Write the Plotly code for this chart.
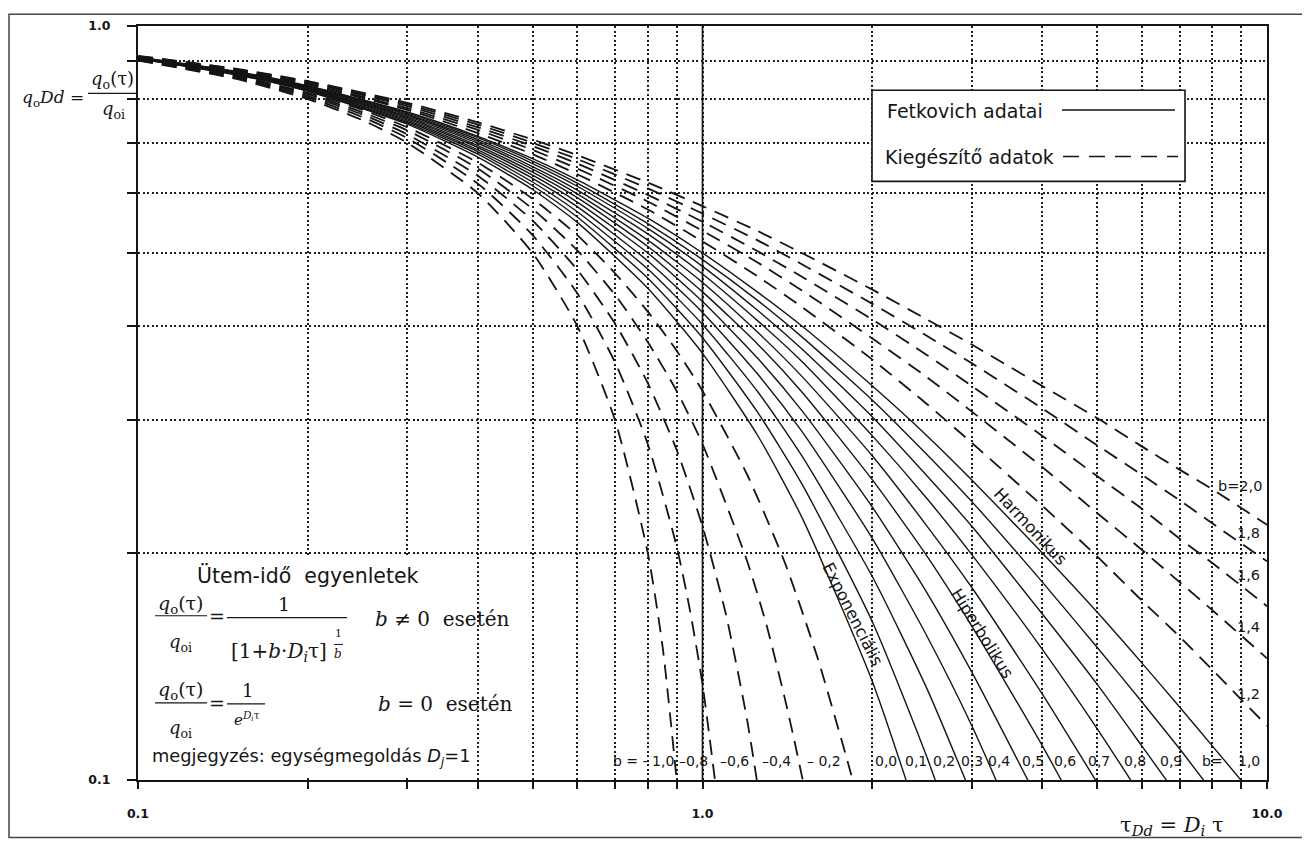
import plotly.graph_objects as go

# ---------------- data ----------------
TAU = [0.1, 0.15, 0.2, 0.3, 0.4, 0.5, 0.6, 0.8, 1.0, 1.25, 1.5, 2.0, 2.5, 3.0,
       4.0, 5.0, 6.0, 7.0, 8.0, 10.0]

# negative b (dashed, "Kiegészítő adatok")
TAU_BM10 = [0.1, 0.15, 0.2, 0.25, 0.3, 0.4, 0.5, 0.6, 0.7, 0.8, 0.85, 0.9]
Q_BM10 = [0.90, 0.85, 0.80, 0.75, 0.70, 0.60, 0.50, 0.40, 0.30, 0.20, 0.15, 0.10]
TAU_BM08 = [0.1, 0.15, 0.2, 0.25, 0.3, 0.4, 0.5, 0.6, 0.7, 0.8, 0.9, 0.95, 1.0, 1.052]
Q_BM08 = [0.901, 0.852, 0.804, 0.757, 0.710, 0.618, 0.528, 0.442, 0.358, 0.279, 0.204, 0.168, 0.134, 0.100]
TAU_BM06 = [0.1, 0.15, 0.2, 0.25, 0.3, 0.4, 0.5, 0.6, 0.7, 0.8, 0.9, 1.0, 1.1, 1.2, 1.248]
Q_BM06 = [0.902, 0.855, 0.808, 0.763, 0.718, 0.633, 0.552, 0.475, 0.403, 0.336, 0.274, 0.217, 0.166, 0.120, 0.100]
TAU_BM04 = [0.1, 0.15, 0.2, 0.25, 0.3, 0.4, 0.5, 0.6, 0.7, 0.8, 0.9, 1.0, 1.2, 1.3, 1.4, 1.45, 1.505]
Q_BM04 = [0.903, 0.857, 0.812, 0.768, 0.727, 0.647, 0.572, 0.504, 0.440, 0.381, 0.328, 0.279, 0.195, 0.160, 0.128, 0.114, 0.100]
TAU_BM02 = [0.1, 0.15, 0.2, 0.25, 0.3, 0.4, 0.5, 0.6, 0.7, 0.8, 0.9, 1.0, 1.2, 1.4, 1.6, 1.8, 1.845]
Q_BM02 = [0.904, 0.859, 0.815, 0.774, 0.734, 0.659, 0.590, 0.528, 0.470, 0.418, 0.371, 0.328, 0.254, 0.194, 0.145, 0.107, 0.100]

# 0 <= b <= 1 (solid, "Fetkovich adatai"), sampled at TAU
Q_B000 = [0.905, 0.861, 0.819, 0.741, 0.670, 0.607, 0.549, 0.449, 0.368, 0.287, 0.223, 0.135, 0.0821]
Q_B010 = [0.905, 0.862, 0.820, 0.744, 0.676, 0.614, 0.558, 0.463, 0.386, 0.308, 0.247, 0.162, 0.107, 0.0725]
Q_B020 = [0.906, 0.863, 0.822, 0.747, 0.681, 0.621, 0.567, 0.476, 0.402, 0.328, 0.269, 0.186, 0.132, 0.0954]
Q_B030 = [0.906, 0.864, 0.823, 0.750, 0.685, 0.628, 0.576, 0.488, 0.417, 0.346, 0.290, 0.209, 0.155, 0.118, 0.0722]
Q_B040 = [0.907, 0.864, 0.825, 0.753, 0.690, 0.634, 0.584, 0.500, 0.431, 0.363, 0.309, 0.230, 0.177, 0.139, 0.0917]
Q_B050 = [0.907, 0.865, 0.826, 0.756, 0.694, 0.640, 0.592, 0.510, 0.444, 0.379, 0.327, 0.250, 0.198, 0.160, 0.111, 0.0816]
Q_B060 = [0.907, 0.866, 0.828, 0.759, 0.699, 0.646, 0.599, 0.520, 0.457, 0.393, 0.343, 0.269, 0.217, 0.180, 0.130, 0.0992]
Q_B070 = [0.908, 0.867, 0.829, 0.762, 0.703, 0.651, 0.606, 0.530, 0.469, 0.407, 0.359, 0.286, 0.236, 0.199, 0.149, 0.117, 0.0949]
Q_B080 = [0.908, 0.868, 0.831, 0.764, 0.707, 0.657, 0.613, 0.539, 0.480, 0.420, 0.373, 0.303, 0.253, 0.217, 0.166, 0.134, 0.111, 0.0945]
Q_B090 = [0.909, 0.869, 0.832, 0.767, 0.711, 0.662, 0.619, 0.547, 0.490, 0.433, 0.387, 0.319, 0.270, 0.234, 0.183, 0.150, 0.127, 0.110, 0.0965]
Q_B100 = [0.909, 0.870, 0.833, 0.769, 0.714, 0.667, 0.625, 0.556, 0.500, 0.444, 0.400, 0.333, 0.286, 0.250, 0.200, 0.167, 0.143, 0.125, 0.111, 0.0909]

# b > 1 (dashed)
Q_B120 = [0.910, 0.871, 0.836, 0.774, 0.721, 0.676, 0.636, 0.571, 0.518, 0.466, 0.424, 0.361, 0.315, 0.280, 0.231, 0.198, 0.173, 0.155, 0.140, 0.118]
Q_B140 = [0.911, 0.873, 0.838, 0.778, 0.728, 0.685, 0.647, 0.585, 0.535, 0.486, 0.446, 0.385, 0.342, 0.308, 0.260, 0.226, 0.202, 0.183, 0.168, 0.145]
Q_B160 = [0.911, 0.874, 0.841, 0.783, 0.734, 0.693, 0.657, 0.597, 0.550, 0.503, 0.465, 0.408, 0.366, 0.333, 0.286, 0.253, 0.229, 0.209, 0.194, 0.170]
Q_B180 = [0.912, 0.876, 0.843, 0.787, 0.740, 0.700, 0.666, 0.609, 0.564, 0.520, 0.483, 0.428, 0.388, 0.357, 0.311, 0.278, 0.254, 0.235, 0.219, 0.195]
Q_B200 = [0.913, 0.877, 0.845, 0.791, 0.745, 0.707, 0.674, 0.620, 0.577, 0.535, 0.500, 0.447, 0.408, 0.378, 0.333, 0.302, 0.277, 0.258, 0.243, 0.218]

X_TICKS = [0.1, 1, 10]
X_TICKTEXT = ["0.1", "1.0", "10.0"]
X_MINOR = [0.2, 0.3, 0.4, 0.5, 0.6, 0.7, 0.8, 0.9, 2, 3, 4, 5, 6, 7, 8, 9]
Y_TICKS = [0.1, 1.0]
Y_TICKTEXT = ["0.1", "1.0"]
Y_MINOR = [0.2, 0.3, 0.4, 0.5, 0.6, 0.7, 0.8, 0.9]

BOTTOM_LABELS = ["b = - 1,0", "–0,8", "–0,6", "–0,4", "– 0,2", "0,0", "0,1", "0,2", "0,3",
                 "0,4", "0,5", "0,6", "0,7", "0,8", "0,9", "b=", "1,0"]
RIGHT_LABELS = ["b=2,0", "1,8", "1,6", "1,4", "1,2"]
LEGEND_TEXT = ["Fetkovich adatai", "Kiegészítő adatok"]

# ---------------- styling ----------------
INK = "#151515"
SANS = "DejaVu Sans"
SERIF = "DejaVu Serif"
OFF = 8                       # page body margin of the html page
W, H = 1310 - OFF, 843 - OFF
L, R, T, B = 138 - OFF, 43, 18 - OFF, 63
PW, PH = W - L - R, H - T - B
DASH = "15px,9px"


def P(px, py):
    """page pixel -> paper coords"""
    return (px - OFF - L) / PW, (H - B - (py - OFF)) / PH


fig = go.Figure()

neg = [(TAU_BM10, Q_BM10), (TAU_BM08, Q_BM08), (TAU_BM06, Q_BM06),
       (TAU_BM04, Q_BM04), (TAU_BM02, Q_BM02)]
solid = [Q_B000, Q_B010, Q_B020, Q_B030, Q_B040, Q_B050, Q_B060, Q_B070,
         Q_B080, Q_B090, Q_B100]
high = [Q_B120, Q_B140, Q_B160, Q_B180, Q_B200]

for tx, qy in neg:
    fig.add_trace(go.Scatter(x=tx, y=qy, mode="lines", showlegend=False,
                             line=dict(color=INK, width=1.8, dash=DASH,
                                       shape="spline", smoothing=0.6)))
for qy in solid:
    fig.add_trace(go.Scatter(x=TAU[:len(qy)], y=qy, mode="lines", showlegend=False,
                             line=dict(color=INK, width=1.4,
                                       shape="spline", smoothing=0.6)))
for qy in high:
    fig.add_trace(go.Scatter(x=TAU[:len(qy)], y=qy, mode="lines", showlegend=False,
                             line=dict(color=INK, width=1.8, dash=DASH,
                                       shape="spline", smoothing=0.6)))

shapes = []


def hline(px0, px1, py, width=1.3, dash=None):
    x0, y0 = P(px0, py)
    x1, _ = P(px1, py)
    d = dict(type="line", xref="paper", yref="paper", x0=x0, x1=x1, y0=y0, y1=y0,
             layer="above", line=dict(color=INK, width=width))
    if dash:
        d["line"]["dash"] = dash
    shapes.append(d)


def rect(px0, py0, px1, py1, line_w=0, fill="white", layer="above", color=INK):
    x0, y0 = P(px0, py1)
    x1, y1 = P(px1, py0)
    shapes.append(dict(type="rect", xref="paper", yref="paper", x0=x0, x1=x1, y0=y0, y1=y1,
                       layer=layer, fillcolor=fill,
                       line=dict(color=color, width=line_w)))


# outer frame of the figure
rect(9, 6, 1305, 838, line_w=1.5, fill="rgba(0,0,0,0)", layer="below", color="#444")
# solid vertical line at tau = 1
shapes.append(dict(type="line", xref="paper", yref="paper", x0=0.5, x1=0.5, y0=0, y1=1,
                   layer="above", line=dict(color=INK, width=1.7)))
# blank panel for equations
rect(140, 553, 470, 777)
# legend box
rect(872, 83, 1185, 175, line_w=1.6)
hline(1062, 1175, 103, width=1.5)
hline(1063, 1178, 150, width=1.5, dash="16px,10px")
# fraction bars
hline(88, 137, 86, width=1.3)
hline(155, 207, 614, width=1.2)
hline(227, 347, 616, width=1.2)
hline(334, 343, 643, width=1.0)
hline(155, 207, 702, width=1.2)
hline(227, 265, 703, width=1.2)

ann = []


def A(text, px, py, size=14, family=SANS, xanchor="center", angle=0, color=INK):
    x, y = P(px, py)
    ann.append(dict(text=text, x=x, y=y, xref="paper", yref="paper", showarrow=False,
                    xanchor=xanchor, yanchor="middle", textangle=angle,
                    font=dict(family=family, size=size, color=color)))


# bottom curve labels
bottom_px = [643, 693, 734, 776, 824, 886, 916, 944, 972, 999, 1033, 1065, 1099, 1135,
             1171, 1212, 1249]
for t, px in zip(BOTTOM_LABELS, bottom_px):
    A(t, px, 761, size=14)
# right side labels
for t, (px, py) in zip(RIGHT_LABELS, [(1240, 483), (1248, 530), (1248, 573),
                                      (1248, 625), (1248, 693)]):
    A(t, px, py, size=14.5)
# rotated curve-family labels
A("Exponenciális", 852, 612, size=16.5, angle=63)
A("Hiperbolikus", 982, 632, size=16.5, angle=58)
A("Harmonikus", 1030, 524, size=16.5, angle=47)
# legend texts
A(LEGEND_TEXT[0], 885, 104, size=19, xanchor="left")
A(LEGEND_TEXT[1], 883, 150, size=19, xanchor="left")
# y axis title
A("<i>q</i><sub>o</sub><i>Dd</i> =", 86, 91, size=17, family=SERIF, xanchor="right")
A("<i>q</i><sub>o</sub>(τ)", 112, 73, size=18, family=SERIF)
A("<i>q</i><sub>oi</sub>", 113, 103, size=18, family=SERIF)
# x axis title
A("τ<sub><i>Dd</i></sub> = <i>D<sub>i</sub></i> τ", 1172, 826, size=21, family=SERIF)
# equations panel
A("Ütem-idő  egyenletek", 308, 573, size=20.5)
A("<i>q</i><sub>o</sub>(τ)", 181, 603, size=19, family=SERIF)
A("<i>q</i><sub>oi</sub>", 180, 642, size=18, family=SERIF)
A("=", 217, 614, size=19, family=SERIF)
A("1", 284, 602, size=19, family=SERIF)
A("[1+<i>b</i>·<i>D<sub>i</sub></i>τ]", 279, 651, size=20, family=SERIF)
A("1", 338, 632, size=11, family=SERIF)
A("<i>b</i>", 338, 653, size=12, family=SERIF)
A("<i>b</i> ≠ 0  esetén", 442, 617, size=20, family=SERIF)
A("<i>q</i><sub>o</sub>(τ)", 181, 690, size=19, family=SERIF)
A("<i>q</i><sub>oi</sub>", 180, 728, size=18, family=SERIF)
A("=", 217, 702, size=19, family=SERIF)
A("1", 247, 690, size=18, family=SERIF)
A("<i>e</i><sup><i>D<sub>i</sub></i>τ</sup>", 247, 718, size=15, family=SERIF)
A("<i>b</i> = 0  esetén", 445, 703, size=20, family=SERIF)
A("megjegyzés: egységmegoldás <i>D<sub>j</sub></i>=1", 150, 757, size=17.8, xanchor="left")

grid_style = dict(gridcolor="#1e1e1e", gridwidth=1.5, griddash="2px,2.5px")
axis_common = dict(type="log", showline=True, linecolor=INK, linewidth=2, mirror=True,
                   showgrid=True, ticks="outside", tickcolor=INK, tickwidth=1.5,
                   zeroline=False, tickfont=dict(family=SANS, size=12.5, color=INK),
                   **grid_style)

fig.update_xaxes(range=[-1, 1], tickmode="array", tickvals=X_TICKS,
                 ticktext=[f"<b>{t}</b>" for t in X_TICKTEXT],
                 ticklen=7, ticklabelstandoff=14,
                 minor=dict(tickmode="array", tickvals=X_MINOR, ticks="outside", ticklen=7,
                            tickcolor=INK, tickwidth=1.5, showgrid=True, **grid_style),
                 **axis_common)
fig.update_yaxes(range=[-1, 0], tickmode="array", tickvals=Y_TICKS,
                 ticktext=[f"<b>{t}</b>" for t in Y_TICKTEXT],
                 ticklen=9, ticklabelstandoff=14,
                 minor=dict(tickmode="array", tickvals=Y_MINOR, ticks="outside", ticklen=9,
                            tickcolor=INK, tickwidth=1.5, showgrid=True, **grid_style),
                 **axis_common)

fig.update_layout(width=W, height=H, margin=dict(l=L, r=R, t=T, b=B),
                  paper_bgcolor="white", plot_bgcolor="white",
                  shapes=shapes, annotations=ann, showlegend=False)

fig.write_html("out.html")
